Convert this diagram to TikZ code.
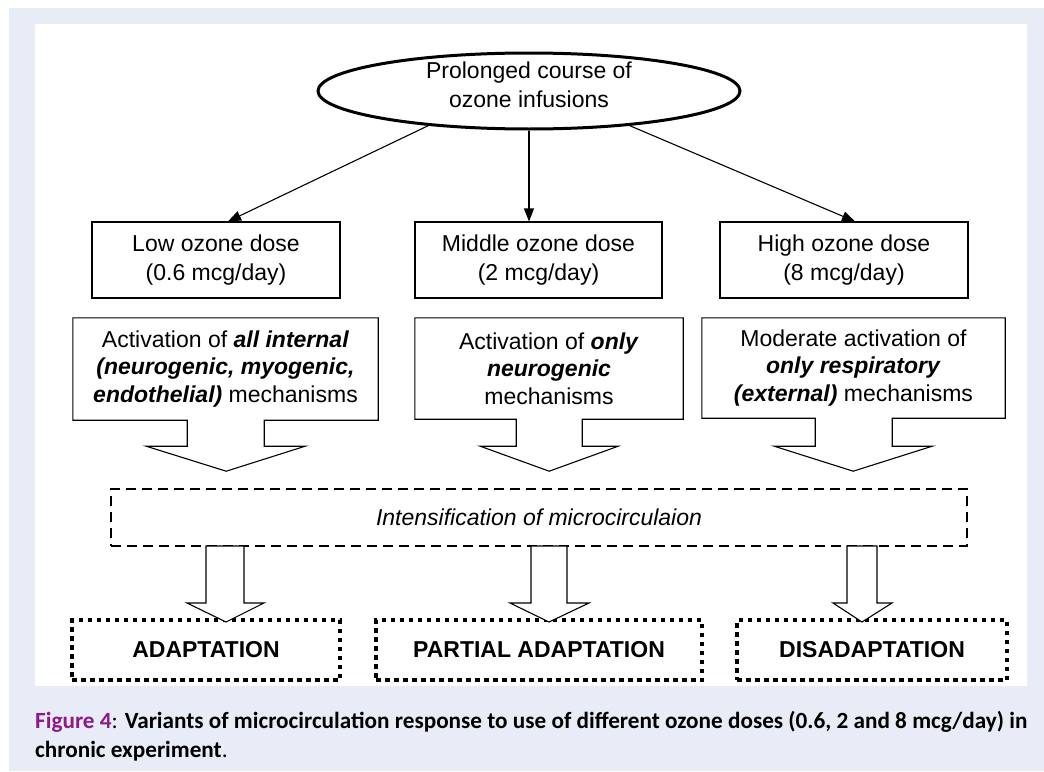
\documentclass[tikz,border=0pt]{standalone}
\usepackage{fontspec}
\setmainfont{Liberation Sans}
\newfontfamily\capfont{Carlito}
\usetikzlibrary{shapes.geometric,arrows.meta}
\definecolor{bgblue}{RGB}{232,236,246}
\definecolor{figpurple}{RGB}{140,26,140}
\newcommand{\bi}[1]{\textbf{\textit{#1}}}
\begin{document}
\begin{tikzpicture}[x=1pt,y=-1pt,
  txt/.style={font=\fontsize{23}{29}\selectfont,align=center,inner sep=0pt},
  box/.style={txt,draw,line width=1.1pt},
  plain/.style={txt,font=\fontsize{23}{27.5}\selectfont},
  outline/.style={draw,line width=1.1pt,line join=miter},
  arr/.style={line width=1.1pt,-{Triangle[length=13pt,width=10pt]}},
  dashbox/.style={txt,draw,line width=2.8pt,dash pattern=on 10pt off 6pt},
  dotbox/.style={txt,draw,line width=4.5pt,dash pattern=on 4.5pt off 4.5pt,font=\fontsize{23}{29}\selectfont\bfseries},
  capt/.style={anchor=west,inner sep=0pt,font=\capfont\fontsize{23.2}{28}\selectfont}
]
\useasboundingbox (0,0) rectangle (1044,771);
\fill[white] (0,0) rectangle (1044,771);
\fill[bgblue] (9,8) rectangle (1044,771);
\fill[white] (35,24) rectangle (1027,686);

% top ellipse
\node[ellipse,draw,line width=3pt,minimum width=422pt,minimum height=76pt,inner sep=0pt] (ell) at (529,91) {};
\node[txt] (ellt) at (529,85) {Prolonged course of\\ozone infusions};

% dose boxes
\node[box,minimum width=248pt,minimum height=76pt] (low) at (216,260) {Low ozone dose\\(0.6 mcg/day)};
\node[box,minimum width=247pt,minimum height=76pt] (mid) at (538.5,260) {Middle ozone dose\\(2 mcg/day)};
\node[box,minimum width=248pt,minimum height=76pt] (high) at (844,260) {High ozone dose\\(8 mcg/day)};

\draw[arr] (ell.199) -- ([xshift=12pt]low.north);
\draw[arr] (ell.south) -- (ell.south |- mid.north);
\draw[arr] (ell.341) -- ([xshift=11pt]high.north);

% mechanism callouts
\node[plain,minimum width=305pt,minimum height=102pt] (m1) at (225.5,369)
  {Activation of \bi{all internal}\\\bi{(neurogenic, myogenic,}\\\bi{endothelial)} mechanisms};
\draw[outline] (m1.south west) -- (m1.north west) -- (m1.north east) -- (m1.south east)
  -- ++(-114,0) -- ++(0,26) -- ++(41,0) -- ++(-79,25) -- ++(-80,-25) -- ++(41,0) -- ++(0,-26) -- cycle;

\node[plain,minimum width=268pt,minimum height=101pt] (m2) at (549,368.5)
  {Activation of \bi{only}\\\bi{neurogenic}\\mechanisms};
\draw[outline] (m2.south west) -- (m2.north west) -- (m2.north east) -- (m2.south east)
  -- ++(-101,0) -- ++(0,27) -- ++(36,0) -- ++(-69,25) -- ++(-69,-25) -- ++(36,0) -- ++(0,-27) -- cycle;

\node[plain,minimum width=303pt,minimum height=100pt] (m3) at (853.5,368)
  {Moderate activation of\\\bi{only respiratory}\\\bi{(external)} mechanisms};
\draw[outline] (m3.south west) -- (m3.north west) -- (m3.north east) -- (m3.south east)
  -- ++(-113,0) -- ++(0,28) -- ++(40,0) -- ++(-79,25) -- ++(-79,-25) -- ++(41,0) -- ++(0,-28) -- cycle;

% dashed box
\node[dashbox,minimum width=856pt,minimum height=57pt] (ints) at (539,517.5)
  {\textit{Intensification of microcirculaion}};

% result boxes
\node[dotbox,minimum width=268pt,minimum height=60pt] (r1) at (206,650) {ADAPTATION};
\node[dotbox,minimum width=326pt,minimum height=60pt] (r2) at (539,650) {PARTIAL ADAPTATION};
\node[dotbox,minimum width=270pt,minimum height=60pt] (r3) at (872,650) {DISADAPTATION};

% block arrows from dashed box
\draw[outline,fill=white] (206,546) -- (244,546) -- (244,603) -- (264,603) -- (226,622)
  -- (187,603) -- (206,603) -- cycle;
\draw[outline,fill=white] (531,546) -- (567,546) -- (567,603) -- (589,603) -- (549,622)
  -- (510,603) -- (531,603) -- cycle;
\draw[outline,fill=white] (847,546) -- (877,546) -- (877,603) -- (892,603) -- (862,622)
  -- (833,603) -- (847,603) -- cycle;

% caption
\node[capt] (cap1) at (35,722)
  {\textcolor{figpurple}{\bfseries Figure 4}: \bfseries Variants of microcirculation response to use of different ozone doses (0.6, 2 and 8 mcg/day) in};
\node[capt] (cap2) at (35,751)
  {\bfseries chronic experiment\mdseries.};
\end{tikzpicture}
\end{document}
